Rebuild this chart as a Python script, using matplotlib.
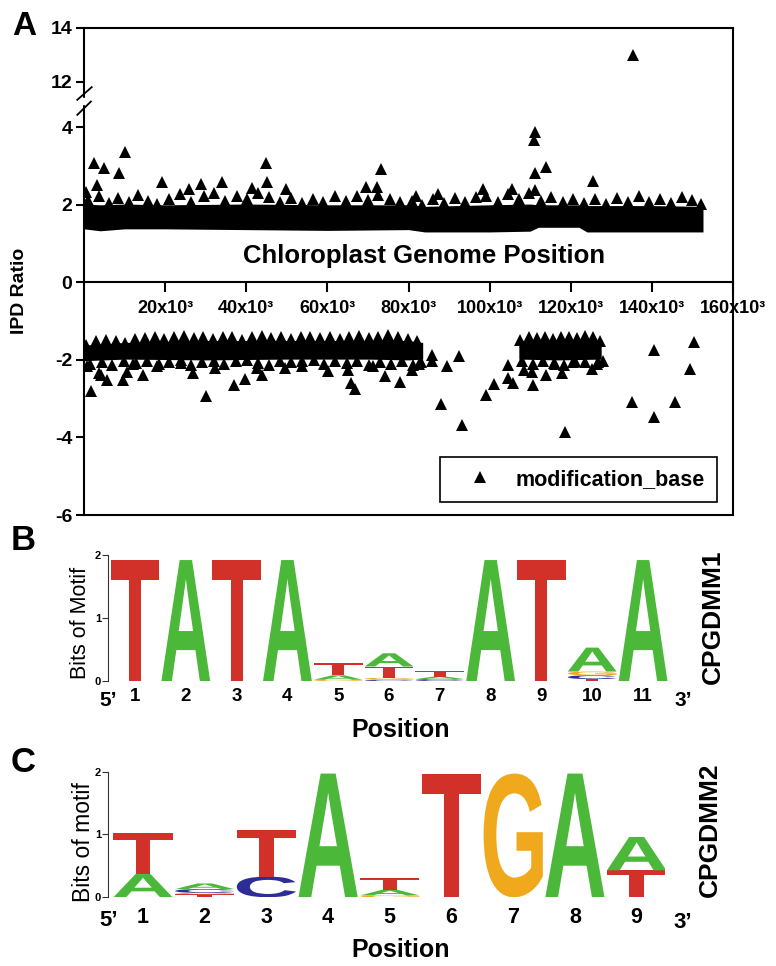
"""IPD ratio scatter along the chloroplast genome + two motif logos (CPGDMM1/2)."""
import numpy as np
import matplotlib
matplotlib.use("Agg")
import matplotlib.pyplot as plt
import matplotlib.transforms as mtransforms
from matplotlib.textpath import TextPath
from matplotlib.patches import PathPatch, Rectangle
from matplotlib.font_manager import FontProperties

plt.rcParams["font.family"] = ["Liberation Sans", "DejaVu Sans"]

# ---------------- panel A data (x in kb, IPD ratio) ----------------
# upper edge of the dense positive band
pos_top_x = [1.0, 3.6, 6.2, 8.5, 11.0, 13.4, 15.8, 18.0, 21.0, 23.6, 26.4, 29.5, 32.0, 34.8,
             37.6, 40.2, 42.8, 45.6, 48.2, 51.0, 53.8, 56.4, 59.0, 61.8, 64.6, 67.2, 70.0,
             72.6, 75.4, 78.0, 80.8, 83.4, 86.0, 88.8, 91.4, 94.0, 96.6, 99.2, 102.0, 104.6,
             107.2, 109.8, 112.6, 115.2, 118.0, 120.6, 123.2, 126.0, 128.8, 131.4, 134.0,
             136.8, 139.4, 142.0, 144.8, 147.4, 150.0, 152.0]
pos_top_y = [2.12, 2.24, 2.04, 2.18, 2.06, 2.26, 2.10, 2.02, 2.16, 2.28, 2.08, 2.22, 2.30, 2.10,
             2.24, 2.14, 2.30, 2.20, 2.06, 2.18, 2.04, 2.16, 2.08, 2.22, 2.10, 2.24, 2.12,
             2.26, 2.14, 2.06, 2.10, 2.00, 2.14, 2.04, 2.18, 2.06, 2.20, 2.24, 2.08, 2.28,
             2.16, 2.30, 2.10, 2.20, 2.06, 2.16, 2.04, 2.14, 2.02, 2.18, 2.08,
             2.22, 2.06, 2.16, 2.04, 2.20, 2.12, 2.02]
# outliers above the positive band
pos_out_x = [0.5, 2.5, 3.3, 4.9, 8.6, 10.0, 19.3, 25.9, 28.8, 34.0, 41.5, 44.8, 45.2, 49.7,
             69.5, 72.3, 73.2, 81.8, 87.3, 98.3, 105.4, 110.9, 111.2, 111.2, 114.0, 111.2,
             125.4, 135.4]
pos_out_y = [2.34, 3.09, 2.51, 2.95, 2.82, 3.35, 2.58, 2.41, 2.54, 2.58, 2.43, 3.08, 2.58, 2.41,
             2.45, 2.45, 2.92, 2.22, 2.28, 2.41, 2.41, 3.67, 3.88, 2.82, 2.97, 2.37,
             2.61, 13.0]
# body of the dense positive band
pos_band_x = [0, 4, 10, 20, 40, 60, 80, 84, 100, 110, 112, 122, 124, 140, 152.6]
pos_band_lo = [1.38, 1.33, 1.38, 1.38, 1.36, 1.34, 1.36, 1.30, 1.30, 1.32, 1.42, 1.42, 1.30, 1.30, 1.30]
pos_band_hi = [2.02, 2.00, 2.02, 2.00, 2.02, 2.00, 2.00, 1.96, 2.00, 2.02, 2.00, 2.00, 1.98, 1.98, 1.96]

# upper edge of the dense negative clusters
neg_top_x = [0.6, 3.0, 5.4, 7.8, 10.2, 12.6, 15.0, 17.4, 19.8, 22.2, 24.6, 27.0, 29.4, 31.8,
             34.2, 36.6, 39.0, 41.4, 43.8, 46.2, 48.6, 51.0, 53.4, 55.8, 58.2, 60.6, 63.0,
             65.4, 67.8, 70.2, 72.6, 75.0, 77.4, 79.8, 82.2,
             107.6, 109.6, 111.6, 113.6, 115.6, 117.6, 119.6, 121.6, 123.6, 125.6, 127.2]
neg_top_y = [-1.62, -1.52, -1.48, -1.50, -1.56, -1.46, -1.44, -1.40, -1.46, -1.42, -1.38, -1.44,
             -1.40, -1.46, -1.42, -1.40, -1.48, -1.42, -1.38, -1.44, -1.40, -1.46, -1.42,
             -1.40, -1.44, -1.40, -1.46, -1.42, -1.38, -1.44, -1.40, -1.36, -1.42, -1.46, -1.50,
             -1.48, -1.42, -1.44, -1.40, -1.46, -1.42, -1.40, -1.44, -1.38, -1.42, -1.50]
# lower edge of the dense negative clusters
neg_low_x = [1.5, 4.5, 7.0, 9.8, 12.8, 15.6, 18.4, 21.0, 23.8, 26.4, 29.2, 32.0, 34.6, 37.4,
             40.2, 42.8, 45.6, 48.4, 51.0, 53.8, 56.6, 59.2, 62.0, 64.8, 67.4, 70.2, 73.0,
             75.6, 78.4, 81.0, 83.0,
             108.0, 110.6, 113.2, 115.8, 118.4, 121.0, 123.6, 126.4]
neg_low_y = [-2.10, -2.05, -2.12, -2.04, -2.08, -2.02, -2.10, -2.05, -2.00, -2.12, -2.06, -2.02,
             -2.10, -2.04, -2.00, -2.08, -2.12, -2.02, -2.06, -2.04, -2.00, -2.10, -2.02,
             -2.08, -2.04, -2.12, -2.06, -2.10, -2.02, -2.14, -2.06,
             -2.04, -2.10, -2.02, -2.08, -2.12, -2.04, -2.06, -2.10]
# scattered points below / around the negative clusters
neg_out_x = [0.7, 1.8, 3.7, 4.1, 5.6, 9.5, 10.5, 12.0, 14.6, 18.0, 24.0, 26.8, 30.0, 32.3,
             37.0, 39.6, 42.6, 43.9, 49.6, 53.7, 60.2, 65.0, 65.8, 66.8, 71.2, 74.2, 77.9,
             80.8, 82.5, 85.7, 85.7, 88.0, 89.4, 92.5, 93.3, 99.0, 101.0, 104.6, 104.6,
             105.8, 108.5, 110.4, 110.8, 114.0, 116.0, 117.8, 118.6, 120.5, 125.2, 126.8,
             128.0, 135.0, 140.6, 140.6, 145.7, 149.4, 150.5]
neg_out_y = [-2.17, -2.80, -2.35, -2.39, -2.52, -2.52, -2.30, -2.10, -2.40, -2.15, -2.09, -2.33,
             -2.93, -2.20, -2.65, -2.50, -2.22, -2.39, -2.22, -2.17, -2.29, -2.27, -2.60,
             -2.75, -2.17, -2.42, -2.56, -2.26, -2.10, -1.87, -2.03, -3.14, -2.17, -1.91,
             -3.68, -2.90, -2.63, -2.13, -2.47, -2.60, -2.25, -2.30, -2.65, -2.40, -2.10,
             -2.34, -3.87, -2.05, -2.23, -2.05, -2.04, -3.09, -1.74, -3.48, -3.09, -2.24, -1.53]
# bodies of the two dense negative clusters
neg_band1_x = [0, 10, 30, 50, 70, 80, 83.5]
neg_band1_hi = [-1.62, -1.55, -1.50, -1.50, -1.50, -1.50, -1.55]
neg_band1_lo = [-2.02, -1.98, -2.00, -1.98, -1.98, -2.00, -1.98]
neg_band2_x = [107.2, 117, 127.5]
neg_band2_hi = [-1.50, -1.48, -1.52]
neg_band2_lo = [-1.98, -2.00, -1.98]

yticks = [-6, -4, -2, 0, 2, 4, 12, 14]
ytick_labels = ["-6", "-4", "-2", "0", "2", "4", "12", "14"]
xticks = [20000, 40000, 60000, 80000, 100000, 120000, 140000, 160000]
xtick_labels = ["20x10³", "40x10³", "60x10³", "80x10³", "100x10³", "120x10³", "140x10³", "160x10³"]

# ---------------- motif logos (letter, bits) bottom -> top ----------------
motif1 = [[("T", 1.92)], [("A", 1.92)], [("T", 1.92)], [("A", 1.92)],
          [("G", 0.02), ("A", 0.07), ("T", 0.19)],
          [("C", 0.02), ("G", 0.03), ("T", 0.18), ("A", 0.21)],
          [("C", 0.03), ("A", 0.04), ("T", 0.09)],
          [("A", 1.92)], [("T", 1.92)],
          [("T", 0.03), ("C", 0.06), ("G", 0.06), ("A", 0.38)],
          [("A", 1.92)]]
motif2 = [[("A", 0.37), ("T", 0.65)],
          [("T", 0.05), ("G", 0.02), ("C", 0.06), ("A", 0.09)],
          [("C", 0.33), ("T", 0.74)],
          [("A", 1.97)],
          [("G", 0.03), ("A", 0.09), ("T", 0.19)],
          [("T", 1.97)], [("G", 1.97)], [("A", 1.97)],
          [("T", 0.43), ("A", 0.53)]]
base_colors = {"A": "#4cb83a", "T": "#d2312a", "G": "#f0a81c", "C": "#2c2d96"}

# ---------------- figure ----------------
W, H = 776, 966
fig = plt.figure(figsize=(W / 100, H / 100), dpi=100, facecolor="white")

brk_in = [-6, 4, 12, 14]
brk_out = [-6, 4, 5.18, 6.56]


def fwd(y):
    return np.interp(y, brk_in, brk_out)


def inv(t):
    return np.interp(t, brk_out, brk_in)


ax = fig.add_axes([84 / W, 1 - 515 / H, 649 / W, 487 / H])
ax.set_yscale("function", functions=(fwd, inv))
ax.set_xlim(0, 160000)
ax.set_ylim(-6, 14)

kb = 1000.0
ax.fill_between(np.array(pos_band_x) * kb, pos_band_lo, pos_band_hi, color="k", lw=0)
ax.fill_between(np.array(neg_band1_x) * kb, neg_band1_lo, neg_band1_hi, color="k", lw=0)
ax.fill_between(np.array(neg_band2_x) * kb, neg_band2_lo, neg_band2_hi, color="k", lw=0)
mk = dict(marker="^", ls="none", color="k", ms=8.2, mew=0)
h, = ax.plot(np.array(pos_top_x) * kb, pos_top_y, label="modification_base", **mk)
ax.plot(np.array(pos_out_x) * kb, pos_out_y, **mk)
ax.plot(np.array(neg_top_x) * kb, neg_top_y, **mk)
ax.plot(np.array(neg_low_x) * kb, neg_low_y, **mk)
ax.plot(np.array(neg_out_x) * kb, neg_out_y, **mk)

for s in ax.spines.values():
    s.set_linewidth(1.5)
ax.spines["bottom"].set_position(("data", 0))
ax.plot([0, 1], [0, 0], transform=ax.transAxes, color="k", lw=1.5, clip_on=False)

ax.set_xticks(xticks)
ax.set_xticklabels(xtick_labels, fontweight="bold")
ax.set_yticks(yticks)
ax.set_yticklabels(ytick_labels, fontweight="bold")
ax.tick_params(axis="x", direction="out", length=7, width=1.5, pad=6, labelsize=13)
ax.tick_params(axis="y", direction="out", length=5.5, width=1.5, pad=3, labelsize=14)
ax.minorticks_off()

# axis break marks on the left spine
bt = mtransforms.blended_transform_factory(ax.transAxes, ax.transData)
ax.add_patch(Rectangle((-0.006, 8.1), 0.012, 1.1, transform=bt, color="white",
                       clip_on=False, zorder=5))
ax.plot([-0.0103, 0.0119], [8.80, 11.02], transform=bt, color="k", lw=1.3,
        clip_on=False, zorder=6)
ax.plot([-0.0103, 0.0106], [6.17, 8.50], transform=bt, color="k", lw=1.3,
        clip_on=False, zorder=6)

ax.text(83800, 0.67, "Chloroplast Genome Position", ha="center", va="center",
        fontsize=18.5, fontweight="bold")
leg = ax.legend(handles=[h], loc="lower right", bbox_to_anchor=(0.975, 0.027),
                prop={"weight": "bold", "size": 15.5}, fancybox=False, edgecolor="k",
                framealpha=1, borderpad=0.55, handlelength=2.6, handletextpad=0.36,
                borderaxespad=0, numpoints=1)
leg.get_frame().set_linewidth(1.2)

fig.text(20 / W, 1 - 291 / H, "IPD Ratio", rotation=90, ha="center", va="center",
         fontsize=14, fontweight="bold")
fig.text(24 / W, 1 - 35 / H, "A", ha="center", va="baseline", fontsize=24, fontweight="bold")

# ---------------- logos ----------------
LOGO_FONT = FontProperties(family="Liberation Sans", weight="bold")


def draw_letter(a, ch, x, y0, hgt, w=0.96):
    tp = TextPath((0, 0), ch, size=1, prop=LOGO_FONT)
    bb = tp.get_extents()
    tr = (mtransforms.Affine2D().translate(-bb.x0, -bb.y0)
          .scale(w / bb.width, hgt / bb.height)
          .translate(x - w / 2, y0))
    a.add_patch(PathPatch(tr.transform_path(tp), color=base_colors[ch], lw=0))


def logo(rect, motif, xlim, ylim, digit_size, pad):
    a = fig.add_axes(rect)
    for i, stack in enumerate(motif, start=1):
        y0 = 0.0
        for ch, hgt in stack:
            draw_letter(a, ch, i, y0, hgt)
            y0 += hgt
    a.set_xlim(*xlim)
    a.set_ylim(*ylim)
    for k in ("top", "right", "bottom"):
        a.spines[k].set_visible(False)
    a.spines["left"].set_bounds(0, 2)
    a.spines["left"].set_linewidth(0.8)
    a.spines["left"].set_color("#333333")
    a.set_yticks([0, 1, 2])
    a.set_yticklabels(["0", "1", "2"], fontweight="bold")
    a.tick_params(axis="y", length=4, width=0.8, color="#333333", pad=1, labelsize=8)
    pos = list(range(1, len(motif) + 1))
    a.set_xticks(pos)
    a.set_xticklabels([str(p) for p in pos], fontweight="bold")
    a.tick_params(axis="x", length=0, pad=pad, labelsize=digit_size)
    return a


axB = logo([108 / W, 1 - 681 / H, 562 / W, 136 / H], motif1, (0.4685, 11.53), (0, 2.159), 13.5, 5)
axB.text(0.478, -0.40, "5’", ha="center", va="baseline", fontsize=15, fontweight="bold")
axB.text(11.79, -0.40, "3’", ha="center", va="baseline", fontsize=15, fontweight="bold")
axB.text(6.22, -0.89, "Position", ha="center", va="baseline", fontsize=18, fontweight="bold")
fig.text(80 / W, 1 - 623 / H, "Bits of Motif", rotation=90, ha="center", va="center", fontsize=15.5)
fig.text(713 / W, 1 - 617 / H, "CPGDMM1", rotation=90, ha="center", va="center",
         fontsize=19, fontweight="bold")
fig.text(23 / W, 1 - 550 / H, "B", ha="center", va="baseline", fontsize=25, fontweight="bold")

axC = logo([108 / W, 1 - 897.3 / H, 557 / W, 137.3 / H], motif2, (0.433, 9.46), (0, 2.186), 15.5, 6.8)
axC.text(0.449, -0.46, "5’", ha="center", va="baseline", fontsize=16, fontweight="bold")
axC.text(9.75, -0.49, "3’", ha="center", va="baseline", fontsize=16, fontweight="bold")
axC.text(5.17, -0.95, "Position", ha="center", va="baseline", fontsize=18, fontweight="bold")
fig.text(83 / W, 1 - 842 / H, "Bits of motif", rotation=90, ha="center", va="center", fontsize=16.5)
fig.text(710 / W, 1 - 830 / H, "CPGDMM2", rotation=90, ha="center", va="center",
         fontsize=19, fontweight="bold")
fig.text(23 / W, 1 - 772 / H, "C", ha="center", va="baseline", fontsize=25, fontweight="bold")

fig.savefig("out.png", dpi=100, facecolor="white")
print("saved out.png")
